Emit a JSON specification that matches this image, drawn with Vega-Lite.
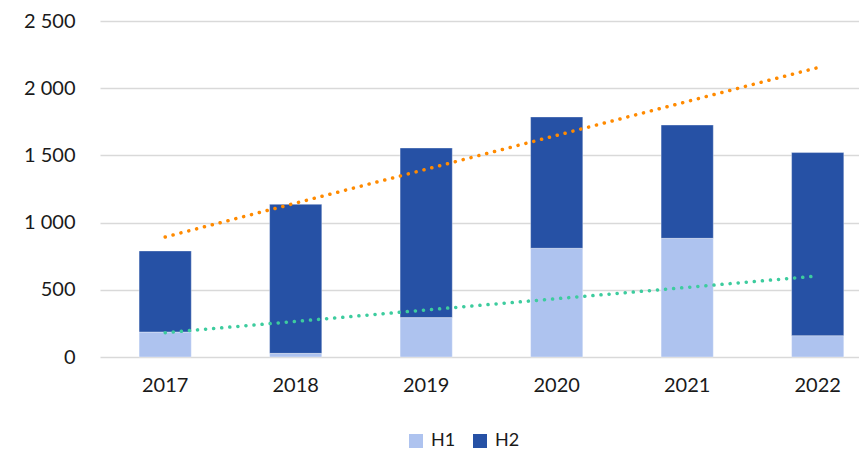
{
  "$schema": "https://vega.github.io/schema/vega-lite/v6.json",
  "autosize": {"type": "none"},
  "padding": {"left": 100, "top": 21, "right": 0, "bottom": 94},
  "width": 759,
  "height": 336,
  "background": "white",
  "config": {
    "view": {"stroke": null},
    "font": "Lato",
    "axis": {"labelFont": "Lato", "labelColor": "#1a1a1a", "labelFontSize": 20},
    "legend": {"labelFont": "Lato"}
  },
  "datasets": {
    "bars": [
      {"year": "2017", "series": "H1", "value": 186},
      {"year": "2017", "series": "H2", "value": 603},
      {"year": "2018", "series": "H1", "value": 27},
      {"year": "2018", "series": "H2", "value": 1109},
      {"year": "2019", "series": "H1", "value": 293},
      {"year": "2019", "series": "H2", "value": 1262},
      {"year": "2020", "series": "H1", "value": 809},
      {"year": "2020", "series": "H2", "value": 977},
      {"year": "2021", "series": "H1", "value": 883},
      {"year": "2021", "series": "H2", "value": 843},
      {"year": "2022", "series": "H1", "value": 159},
      {"year": "2022", "series": "H2", "value": 1362}
    ],
    "trends": [
      {"year": "2017", "trend": "total", "value": 893},
      {"year": "2018", "trend": "total", "value": 1145},
      {"year": "2019", "trend": "total", "value": 1397},
      {"year": "2020", "trend": "total", "value": 1649},
      {"year": "2021", "trend": "total", "value": 1901},
      {"year": "2022", "trend": "total", "value": 2153},
      {"year": "2017", "trend": "h1", "value": 181},
      {"year": "2018", "trend": "h1", "value": 265},
      {"year": "2019", "trend": "h1", "value": 350},
      {"year": "2020", "trend": "h1", "value": 434},
      {"year": "2021", "trend": "h1", "value": 518},
      {"year": "2022", "trend": "h1", "value": 603}
    ]
  },
  "layer": [
    {
      "data": {"name": "bars"},
      "mark": {"type": "bar", "stroke": "white", "strokeOpacity": 0.35, "strokeWidth": 1},
      "encoding": {
        "x": {
          "field": "year", "type": "nominal",
          "scale": {"paddingInner": 0.6, "paddingOuter": 0.208, "align": 0.72},
          "axis": {"title": null, "labelAngle": 0, "ticks": false, "domain": false, "labelPadding": 18, "grid": false}
        },
        "y": {
          "field": "value", "type": "quantitative", "aggregate": "sum", "stack": "zero",
          "scale": {"domain": [0, 2500], "nice": false},
          "axis": {
            "title": null, "values": [0, 500, 1000, 1500, 2000, 2500],
            "ticks": false, "domain": false, "labelPadding": 25,
            "gridColor": "#d9d9d9", "gridWidth": 1.5,
            "labelExpr": "replace(format(datum.value, ','), /,/g, ' ')"
          }
        },
        "color": {
          "field": "series", "type": "nominal",
          "scale": {"domain": ["H1", "H2"], "range": ["#aec3ef", "#2651a5"]},
          "legend": {
            "title": null, "orient": "none", "direction": "horizontal",
            "legendX": 307, "legendY": 411, "symbolType": "square", "symbolSize": 196,
            "symbolStrokeWidth": 0, "labelFontSize": 18, "labelColor": "#1a1a1a", "labelOffset": 6,
            "columnPadding": 15, "padding": 0
          }
        },
        "order": {"field": "series", "sort": "ascending"}
      }
    },
    {
      "data": {"name": "trends"},
      "mark": {"type": "line", "strokeDash": [0.1, 8], "strokeCap": "round", "strokeWidth": 3.5},
      "encoding": {
        "x": {"field": "year", "type": "nominal"},
        "y": {"field": "value", "type": "quantitative"},
        "detail": {"field": "trend"},
        "color": {
          "field": "trend", "type": "nominal",
          "scale": {"domain": ["total", "h1"], "range": ["#ff8a00", "#3dcc9e"]},
          "legend": null
        }
      }
    }
  ],
  "resolve": {"scale": {"color": "independent"}}
}
